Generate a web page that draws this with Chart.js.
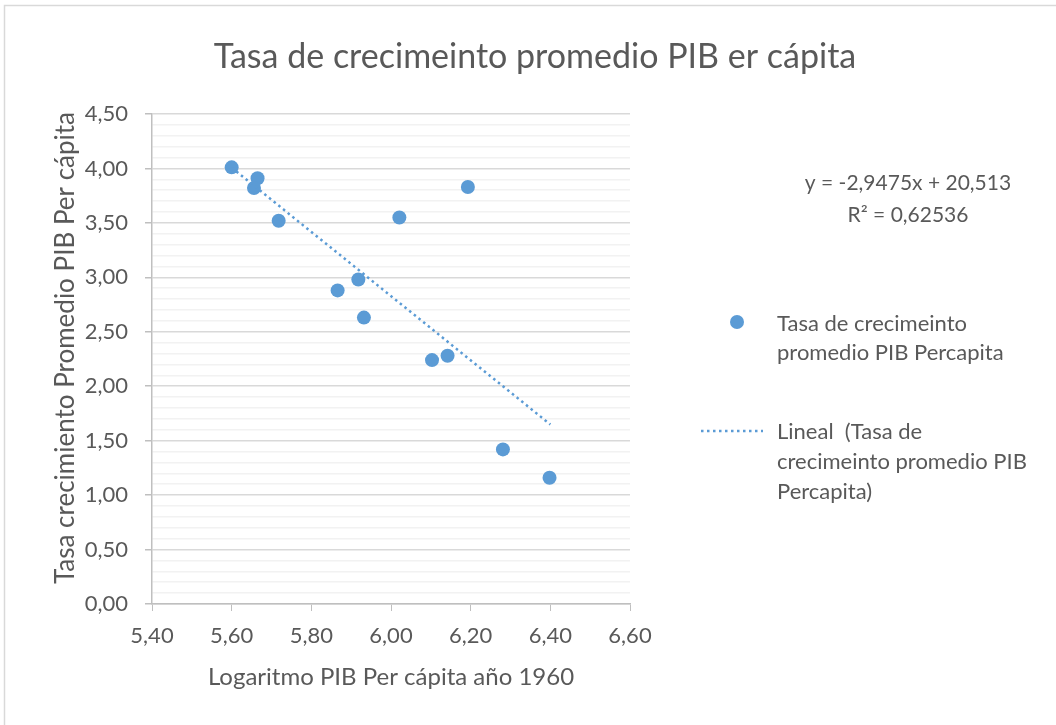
<!DOCTYPE html>
<html>
<head>
<meta charset="utf-8">
<script src="https://cdn.jsdelivr.net/npm/chart.js@4.4.1/dist/chart.umd.min.js"></script>
<style>
  body { margin: 0; background: #ffffff; }
  canvas { display: block; }
</style>
</head>
<body>
<canvas id="chart" width="1056" height="725"></canvas>
<script>
// ---------- DATA ----------
const logPib = [5.600, 5.665, 5.656, 5.718, 6.021, 6.193, 5.918, 5.866, 5.932, 6.103, 6.142, 6.281, 6.398];
const tasa   = [4.01, 3.91, 3.82, 3.52, 3.55, 3.83, 2.98, 2.88, 2.63, 2.24, 2.28, 1.42, 1.16];

// linear trend (Excel fit)
const slope = -2.9475;
const intercept = 20.513;
const r2 = 0.62536;
const trendX = [5.60, 6.40];

const xTicks = [5.40, 5.60, 5.80, 6.00, 6.20, 6.40, 6.60];
const yTicks = [0.00, 0.50, 1.00, 1.50, 2.00, 2.50, 3.00, 3.50, 4.00, 4.50];

// ---------- STYLE ----------
const FONT = "Lato, 'Open Sans', sans-serif";
const TEXT = "#595959";
const BLUE = "#5B9BD5";
const AXIS = "#BFBFBF";

const comma = v => v.toFixed(2).replace(".", ",");

// ---------- TEXT / LEGEND ----------
const decor = {
    id: "decor",
    afterDraw(chart) {
        const c = chart.ctx;
        c.save();

        // chart frame
        c.strokeStyle = "#D9D9D9";
        c.lineWidth = 1.5;
        c.strokeRect(4.5, 5.5, 1100, 800);

        c.fillStyle = TEXT;
        c.textBaseline = "middle";

        // title
        c.textAlign = "center";
        c.font = "34px " + FONT;
        c.fillText("Tasa de crecimeinto promedio PIB er cápita", 535, 57);

        // axis titles
        c.font = "24px " + FONT;
        c.fillText("Logaritmo PIB Per cápita año 1960", 391, 677);
        c.save();
        c.translate(66, 348);
        c.rotate(-Math.PI / 2);
        c.font = "26px " + FONT;
        c.fillText("Tasa crecimiento Promedio PIB Per cápita", 0, 0);
        c.restore();

        // trend equation
        c.font = "21px " + FONT;
        const sign = intercept < 0 ? " - " : " + ";
        c.fillText("y = " + String(slope).replace(".", ",") + "x" + sign +
            String(Math.abs(intercept)).replace(".", ","), 908, 183);
        c.fillText("R² = " + String(r2).replace(".", ","), 908, 215);

        // legend
        c.textAlign = "left";
        c.font = "22px " + FONT;
        c.fillText("Tasa de crecimeinto", 777, 324);
        c.fillText("promedio PIB Percapita", 777, 353);
        c.fillText("Lineal  (Tasa de", 777, 432);
        c.fillText("crecimeinto promedio PIB", 777, 462);
        c.fillText("Percapita)", 777, 492);

        c.fillStyle = BLUE;
        c.beginPath();
        c.arc(737, 322, 7, 0, Math.PI * 2);
        c.fill();

        c.strokeStyle = BLUE;
        c.lineWidth = 2.5;
        c.setLineDash([2.5, 3.5]);
        c.beginPath();
        c.moveTo(701, 431);
        c.lineTo(763, 431);
        c.stroke();

        c.restore();
    }
};

// major ticks from the arrays, minor gridlines every 0.1 on y
function yTickList(scale) {
    const list = [];
    yTicks.forEach((v, i) => {
        list.push({ value: v, major: true });
        if (i < yTicks.length - 1) {
            const step = (yTicks[i + 1] - v) / 5;
            for (let k = 1; k < 5; k++) list.push({ value: v + step * k, major: false });
        }
    });
    scale.ticks = list;
}

new Chart(document.getElementById("chart"), {
    type: "scatter",
    data: {
        datasets: [
            {
                type: "line",
                label: "Lineal  (Tasa de crecimeinto promedio PIB Percapita)",
                data: trendX.map(x => ({ x: x, y: slope * x + intercept })),
                borderColor: BLUE,
                borderWidth: 2.5,
                borderDash: [2.5, 3.5],
                pointRadius: 0,
                fill: false,
                order: 1
            },
            {
                label: "Tasa de crecimeinto promedio PIB Percapita",
                data: logPib.map((x, i) => ({ x: x, y: tasa[i] })),
                backgroundColor: BLUE,
                borderColor: BLUE,
                borderWidth: 0,
                pointRadius: 7,
                pointHoverRadius: 7,
                order: 2
            }
        ]
    },
    options: {
        responsive: false,
        animation: false,
        events: [],
        layout: {
            padding: { left: 0, top: 114, right: 426, bottom: 71 }
        },
        plugins: {
            legend: { display: false },
            title: { display: false },
            tooltip: { enabled: false }
        },
        scales: {
            x: {
                type: "linear",
                min: xTicks[0],
                max: xTicks[xTicks.length - 1],
                afterBuildTicks: s => { s.ticks = xTicks.map(v => ({ value: v })); },
                afterFit: s => { s.height = 50; },
                grid: {
                    drawOnChartArea: false,
                    tickLength: 7,
                    tickColor: AXIS
                },
                border: { color: AXIS, width: 1.5 },
                ticks: {
                    color: TEXT,
                    font: { family: FONT, size: 22 },
                    padding: 12,
                    autoSkip: false,
                    maxRotation: 0,
                    callback: v => comma(v)
                }
            },
            y: {
                type: "linear",
                min: yTicks[0],
                max: yTicks[yTicks.length - 1],
                afterBuildTicks: yTickList,
                afterFit: s => { s.width = 152; },
                grid: {
                    color: ctx => ctx.tick && ctx.tick.major ? "#D9D9D9" : "#F2F2F2",
                    lineWidth: 1.5,
                    tickLength: 7,
                    tickColor: ctx => ctx.tick && ctx.tick.major ? AXIS : "rgba(0,0,0,0)"
                },
                border: { color: AXIS, width: 1.5 },
                ticks: {
                    color: TEXT,
                    font: { family: FONT, size: 22 },
                    padding: 17,
                    autoSkip: false,
                    callback: (v, i, ticks) => ticks[i].major ? comma(v) : ""
                }
            }
        }
    },
    plugins: [decor]
});
</script>
</body>
</html>
